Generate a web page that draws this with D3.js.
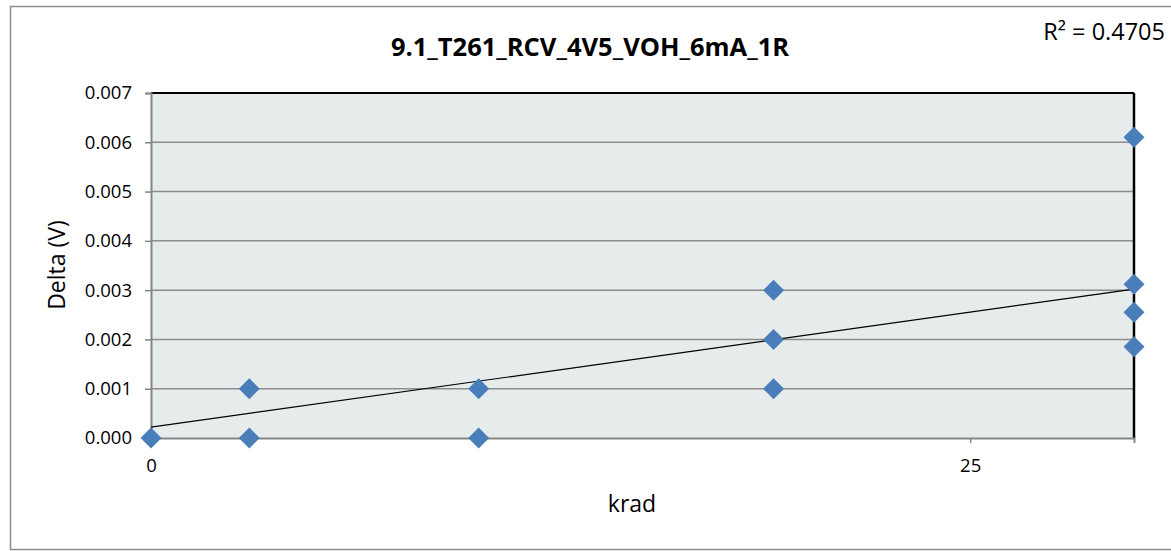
<!DOCTYPE html>
<html>
<head>
<meta charset="utf-8">
<script src="https://cdn.jsdelivr.net/npm/d3@7"></script>
<style>
  body { margin: 0; background: #fff; }
  text { font-family: "Open Sans", "Noto Sans", sans-serif; }
</style>
</head>
<body>
<div id="chart"></div>
<script>
// data
const kradValues = [0, 3, 3, 10, 10, 19, 19, 19, 30, 30, 30, 30];
const deltaValues = [0, 0, 0.001, 0, 0.001, 0.001, 0.002, 0.003, 0.0061, 0.00312, 0.00255, 0.00185];
const trendX = [0, 30];
const trendY = [0.00022, 0.00302];
const xTicks = [0, 25];
const yTicks = [0, 0.001, 0.002, 0.003, 0.004, 0.005, 0.006, 0.007];
const chartTitle = "9.1_T261_RCV_4V5_VOH_6mA_1R";
const rSquared = "R² = 0.4705";

const W = 1171, H = 551;
const margin = { top: 93, right: 37, bottom: 113, left: 151 };
const width = W - margin.left - margin.right;
const height = H - margin.top - margin.bottom;

const svg = d3.select("#chart").append("svg")
    .attr("width", W)
    .attr("height", H);

// outer chart frame (runs off the right edge like the original)
svg.append("rect")
    .attr("x", 10.5).attr("y", 6.5)
    .attr("width", 1200).attr("height", 543)
    .attr("fill", "#fff")
    .attr("stroke", "#8c8c8c")
    .attr("stroke-width", 1.5);

const g = svg.append("g")
    .attr("transform", `translate(${margin.left},${margin.top})`);

const x = d3.scaleLinear().domain([0, 30]).range([0, width]);
const y = d3.scaleLinear().domain([0, 0.007]).range([height, 0]);

// plot background
g.append("rect")
    .attr("width", width).attr("height", height)
    .attr("fill", "#e6ecec");

// gridlines
g.selectAll(".grid")
    .data(yTicks.filter(d => d > 0 && d < 0.007))
    .enter().append("line")
    .attr("class", "grid")
    .attr("x1", 0).attr("x2", width)
    .attr("y1", d => y(d)).attr("y2", d => y(d))
    .attr("stroke", "#8c8c8c")
    .attr("stroke-width", 1.5);

// plot border: top/right dark, left/bottom gray
g.append("line").attr("x1", 0).attr("x2", width).attr("y1", 0).attr("y2", 0)
    .attr("stroke", "#000").attr("stroke-width", 2);
g.append("line").attr("x1", width).attr("x2", width).attr("y1", 0).attr("y2", height)
    .attr("stroke", "#000").attr("stroke-width", 2.5);

// axes
const yAxis = g.append("g")
    .call(d3.axisLeft(y).tickValues(yTicks).tickFormat(d3.format(".3f")).tickSize(6).tickPadding(13));
const xAxis = g.append("g")
    .attr("transform", `translate(0,${height})`)
    .call(d3.axisBottom(x).tickValues(xTicks).tickFormat(d3.format("d")).tickSize(5).tickPadding(16));

[yAxis, xAxis].forEach(a => {
    a.select(".domain").attr("stroke", "#868686").attr("stroke-width", 2);
    a.selectAll(".tick line").attr("stroke", "#868686").attr("stroke-width", 1.5);
    a.selectAll(".tick text")
        .attr("fill", "#000")
        .style("font-size", "18.5px")
        .style("font-family", "'Open Sans', 'Noto Sans', sans-serif");
});
xAxis.selectAll(".tick text").attr("dy", "0.71em");

// trend line
g.append("line")
    .attr("x1", x(trendX[0])).attr("y1", y(trendY[0]))
    .attr("x2", x(trendX[1])).attr("y2", y(trendY[1]))
    .attr("stroke", "#000")
    .attr("stroke-width", 1.2);

// diamond markers
const points = kradValues.map((k, i) => ({ k, v: deltaValues[i] }));
const diamond = d3.symbol().type(d3.symbolSquare).size(220);
g.selectAll(".pt")
    .data(points)
    .enter().append("path")
    .attr("class", "pt")
    .attr("d", diamond)
    .attr("transform", d => `translate(${x(d.k)},${y(d.v)}) rotate(45)`)
    .attr("fill", "#4a7ebb");

// title
svg.append("text")
    .attr("x", 590).attr("y", 56)
    .attr("text-anchor", "middle")
    .style("font-size", "25.5px")
    .style("font-weight", "bold")
    .text(chartTitle);

// R squared
svg.append("text")
    .attr("x", 1165).attr("y", 40)
    .attr("text-anchor", "end")
    .style("font-size", "23.5px")
    .text(rSquared);

// axis titles
svg.append("text")
    .attr("x", 632).attr("y", 512)
    .attr("text-anchor", "middle")
    .style("font-size", "23px")
    .text("krad");

svg.append("text")
    .attr("transform", "translate(65,265) rotate(-90)")
    .attr("text-anchor", "middle")
    .style("font-size", "23px")
    .text("Delta (V)");
</script>
</body>
</html>
